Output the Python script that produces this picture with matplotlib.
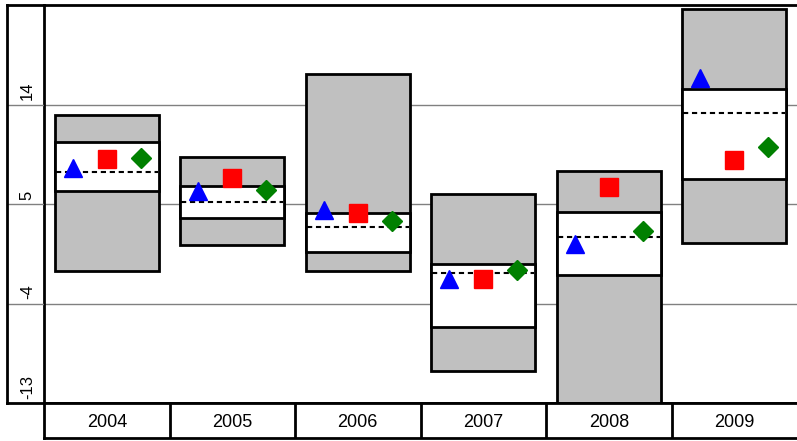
import matplotlib
matplotlib.use('Agg')
import matplotlib.pyplot as plt
from matplotlib.patches import Rectangle

plt.rcParams['font.family'] = ['Liberation Sans', 'DejaVu Sans']

# data
years = ['2004', '2005', '2006', '2007', '2008', '2009']
box_low = [-1.05, 1.3, -1.1, -10.1, -13.0, 1.5]
box_high = [13.05, 9.25, 16.75, 5.9, 8.0, 22.6]
mid_low = [6.2, 3.75, 0.7, -6.1, -1.4, 7.25]
mid_high = [10.6, 6.65, 4.2, -0.45, 4.3, 15.4]
median = [7.9, 5.2, 2.9, -1.25, 2.05, 13.2]
tri_vals = [8.25, 6.2, 4.45, -1.8, 1.35, 16.4]
sq_vals = [9.1, 7.35, 4.2, -1.8, 6.55, 9.0]
dia_vals = [9.15, 6.25, 3.5, -0.95, 2.55, 10.15]
yticks = [-13, -4, 5, 14]
ymin, ymax = -13, 23

W, H = 797, 441
fig = plt.figure(figsize=(W / 100, H / 100), dpi=100)

# main plot area
ax = fig.add_axes([44 / W, 38 / H, 753 / W, 398 / H])
ax.set_xlim(0, len(years))
ax.set_ylim(ymin, ymax)
ax.set_xticks([])
ax.set_yticks([])
for t in yticks:
    ax.axhline(t, color='#808080', lw=1, zorder=0)
for side in ['top', 'left', 'bottom']:
    ax.spines[side].set_linewidth(2)
ax.spines['right'].set_visible(False)

bw = 0.83
for i in range(len(years)):
    x0 = i + 0.5 - bw / 2
    ax.add_patch(Rectangle((x0, box_low[i]), bw, box_high[i] - box_low[i],
                           facecolor='#c0c0c0', edgecolor='black', lw=2, zorder=2))
    ax.add_patch(Rectangle((x0, mid_low[i]), bw, mid_high[i] - mid_low[i],
                           facecolor='white', edgecolor='black', lw=2, zorder=3))
    ax.plot([x0 + 0.01, x0 + bw - 0.01], [median[i], median[i]], color='black',
            lw=1.5, linestyle=(0, (2.5, 1.8)), zorder=4)

xs = [i + 0.5 for i in range(len(years))]
ax.plot([x - 0.27 for x in xs], tri_vals, '^', color='#0000ff', ms=13.5, zorder=5)
ax.plot(xs, sq_vals, 's', color='#ff0000', ms=13.2, zorder=5)
ax.plot([x + 0.27 for x in xs], dia_vals, 'D', color='#008000', ms=9.8, zorder=5)

# y label column
lab = fig.add_axes([7 / W, 38 / H, 37 / W, 398 / H])
lab.set_xlim(0, 1)
lab.set_ylim(ymin, ymax)
lab.set_xticks([])
lab.set_yticks([])
lab.patch.set_alpha(0)
for side in ['top', 'left', 'bottom']:
    lab.spines[side].set_linewidth(2)
lab.spines['right'].set_visible(False)
for t in yticks:
    lab.axhline(t, color='#808080', lw=1)
    lab.text(0.55, t + 0.4, str(t), rotation=90, ha='center', va='bottom', fontsize=12)

# category row
cat = fig.add_axes([44 / W, 3 / H, 753 / W, 35 / H])
cat.set_xlim(0, len(years))
cat.set_ylim(0, 1)
cat.set_xticks([])
cat.set_yticks([])
for side in ['top', 'left', 'bottom']:
    cat.spines[side].set_linewidth(2)
cat.spines['right'].set_visible(False)
for i, y in enumerate(years):
    if i > 0:
        cat.axvline(i, color='black', lw=2)
    cat.text(i + 0.5, 0.45, y, ha='center', va='center', fontsize=13)

fig.savefig('out.png', dpi=100)
